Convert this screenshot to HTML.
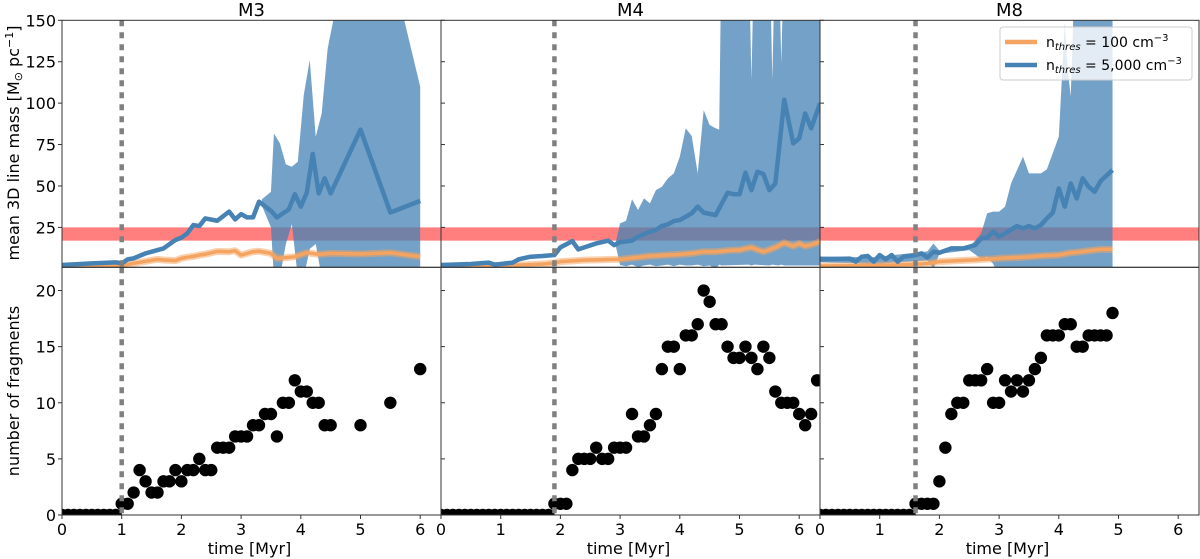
<!DOCTYPE html>
<html><head><meta charset="utf-8"><style>
html,body{margin:0;padding:0;background:#fff;}
svg{display:block;font-family:"DejaVu Sans","Liberation Sans",sans-serif;}
</style></head><body>
<svg id="chart" width="1200" height="559" viewBox="0 0 1200 559" xmlns="http://www.w3.org/2000/svg"></svg>
<script>
// ---- data ----
const panelNames = ["M3","M4","M8"];
const onsetTimes = [1.0, 1.9, 1.6];
const fragM3Times = [0,0.1,0.2,0.3,0.4,0.5,0.6,0.7,0.8,0.9,1.0,1.1,1.2,1.3,1.4,1.5,1.6,1.7,1.8,1.9,2.0,2.1,2.2,2.3,2.4,2.5,2.6,2.7,2.8,2.9,3.0,3.1,3.2,3.3,3.4,3.5,3.6,3.7,3.8,3.9,4.0,4.1,4.2,4.3,4.4,4.5,5.0,5.5,6.0];
const fragM3 = [0,0,0,0,0,0,0,0,0,0,1,1,2,4,3,2,2,3,3,4,3,4,4,5,4,4,6,6,6,7,7,7,8,8,9,9,7,10,10,12,11,11,10,10,8,8,8,10,13];
const fragM4 = [0,0,0,0,0,0,0,0,0,0,0,0,0,0,0,0,0,0,0,1,1,1,4,5,5,5,6,5,5,6,6,6,9,7,7,8,9,13,15,15,13,16,16,17,20,19,17,17,15,14,14,15,14,13,15,14,11,10,10,10,9,8,9,12];
const fragM8 = [0,0,0,0,0,0,0,0,0,0,0,0,0,0,0,0,1,1,1,1,3,6,9,10,10,12,12,12,13,10,10,12,11,12,11,12,13,14,16,16,16,17,17,15,15,16,16,16,16,18];

const m3Times = [0,0.5,0.9,1.0,1.1,1.2,1.4,1.6,1.7,1.9,2.0,2.1,2.2,2.3,2.4,2.6,2.8,2.9,3.0,3.1,3.2,3.3,3.5,3.6,3.8,3.9,4.0,4.1,4.2,4.3,4.4,4.5,5.0,5.5,6.0];
const m3Blue = [2.3,3.3,3.9,3.3,5.7,6.3,9.3,11.3,12.3,17.4,18.8,21.4,26.4,25.8,30.4,29,34.5,29.8,33,31,31,40.5,35,31,35.9,45,37.5,45.9,69.3,45.5,54.6,45.5,84,34,41];
const m3Orange = [1.3,1.5,1.9,1.9,2.6,3.3,4.5,5.7,5.3,4.9,6.3,7,7.5,8.3,8.8,10.5,10.3,10.9,8.3,9.3,10.3,10.6,9.3,6.3,6.9,7.3,8.5,9.7,9.2,8.7,9,9.3,8.9,9.7,7.3];
const m3BandTimes = [3.35,3.5,3.55,3.65,3.75,3.85,3.95,4.05,4.15,4.25,4.35,4.45,4.6,5.0,5.6,6.0];
const m3BandHi = [42,46.5,81.7,75.7,63,61.6,64.6,105,126,79.7,93.8,133,160,250,170,110];
const m3BandLo = [38,25,-5,-5,15,27,-5,-5,12,15,-5,-5,-5,-5,-5,-5];

const m4Times = [0,0.5,0.8,0.9,1.0,1.2,1.3,1.5,1.7,1.9,2.0,2.2,2.3,2.4,2.6,2.8,2.9,3.0,3.2,3.3,3.5,3.6,3.7,3.8,3.9,4.0,4.2,4.3,4.4,4.6,4.8,4.9,5.0,5.1,5.2,5.3,5.4,5.5,5.6,5.75,5.9,6.0,6.1,6.2,6.35];
const m4Blue = [2.3,2.9,3.7,2.5,2.9,3.7,5.7,7.3,7.7,8.3,12.9,16.7,11.7,12.9,15.3,17,14.3,16.1,17,19.4,22.4,23.4,25.8,26.8,28.8,29.4,33.5,37.5,33.9,32.4,45.9,45,45,58,47.5,58.6,57.2,47.5,51.5,102,75.7,78.7,93.8,84.8,100];
const m4Orange = [1.3,1.5,1.8,1.9,2,2.2,2.3,2.5,2.8,3.5,4.3,4.8,5,5.2,5.4,5.6,5.7,5.7,6.5,6.9,7.7,7.9,8.1,8.3,8.5,8.7,9.3,9.8,10.3,10.3,11,11.3,11.3,12.2,12.9,11.5,10.3,11.5,12.9,15.7,13.7,15.3,13.7,14.5,16.3];
const m4BandTimes = [2.92,3.0,3.1,3.2,3.3,3.4,3.5,3.6,3.7,3.8,3.9,4.0,4.1,4.2,4.3,4.4,4.5,4.6,4.66,4.7,5.15,5.2,5.25,5.5,5.55,5.6,5.65,5.7,5.75,6.35];
const m4BandHi = [15,27.4,29,42,35.5,42.5,39.5,47.5,49.5,54.6,57.6,67.7,84.8,80.1,57.6,95.8,86.8,84.8,84,200,200,114,200,200,114,200,200,124,200,200];
const m4BandLo = [15,2.3,1.5,2.5,1,2,2.5,1.5,2,2.5,1.5,2.5,2,2,2.5,1.5,2,0,2.5,2,2.5,2,2.5,2,2.5,2.3,2,2.5,2,2];

const m8Times = [0,0.5,0.6,0.7,0.8,0.9,1.0,1.1,1.2,1.3,1.4,1.5,1.6,1.7,1.8,1.9,2.0,2.2,2.4,2.6,2.7,2.8,2.9,3.0,3.1,3.3,3.4,3.5,3.6,3.7,3.8,3.9,4.0,4.1,4.2,4.3,4.4,4.5,4.6,4.7,4.9];
const m8Blue = [5.7,6.1,4.3,7.3,7.7,4.3,8.3,5.7,8.3,4.3,7.3,7.7,8.3,9.3,6.8,10.3,9.7,12.3,12.3,14.3,18.4,18.8,22.4,19.4,21.4,25.8,24.4,25.8,24.4,26.4,30.4,33.9,48.5,37.5,51.5,42.5,54.6,49.5,46.5,53,59.6];
const m8Orange = [1.7,1.8,1.9,2,2,2,2.1,2.2,2.3,2.4,2.5,2.6,2.8,3,3.3,3.7,4.3,4.7,5.1,5.4,5.7,5.8,6,6.3,6.5,6.8,7,7.3,7.5,7.8,8,8.1,8.3,9,9.7,10,10.4,10.9,11.3,11.7,11.7];
const m8BandTimes = [0,0.9,1.8,1.9,2.0,2.5,2.7,2.8,2.9,3.0,3.1,3.2,3.4,3.5,3.7,3.8,4.0,4.1,4.15,4.2,4.25,4.35,4.9];
const m8BandHi = [7.5,7,10.5,15.3,11,13,21.4,33.5,34.5,34.5,37.5,51.5,67.7,57.6,57.6,60,79.7,148,120,104,160,200,200];
const m8BandLo = [4,3,5,0,9,11.3,6,7.3,3,-5,-5,-5,-5,-5,-5,-5,-5,-5,-5,-5,-5,-5,-5];

const topTicks = [25,50,75,100,125,150];
const bottomTicks = [0,5,10,15,20];
const xTicks = [0,1,2,3,4,5,6];
const bandRange = [17,25];

// ---- layout ----
const NS = "http://www.w3.org/2000/svg";
const svg = document.getElementById("chart");
const panelX = [62, 441, 820], panelW = 379;
const topY0 = 20.3, topY1 = 267.3, botY0 = 267.3, botY1 = 515;
const xMax = panelW / 59.7;
function sx(p, t){ return panelX[p] + t / xMax * panelW; }
function syTop(v){ const vmin = 0.9, vmax = 150; return topY1 - (v - vmin) / (vmax - vmin) * (topY1 - topY0); }
function syBot(v){ const vmax = 22.07; return botY1 - v / vmax * (botY1 - botY0); }
function el(tag, attrs, parent){
  const e = document.createElementNS(NS, tag);
  for (const k in attrs) e.setAttribute(k, attrs[k]);
  (parent || svg).appendChild(e);
  return e;
}
const defs = el("defs", {});
for (let p = 0; p < 3; p++) {
  const c1 = el("clipPath", {id: "ct" + p}, defs);
  el("rect", {x: panelX[p], y: topY0, width: panelW, height: topY1 - topY0}, c1);
  const c2 = el("clipPath", {id: "cb" + p}, defs);
  el("rect", {x: panelX[p], y: botY0, width: panelW, height: botY1 - botY0}, c2);
}

const tops = [
  {t: m3Times, b: m3Blue, o: m3Orange, bt: m3BandTimes, hi: m3BandHi, lo: m3BandLo},
  {t: m4Times, b: m4Blue, o: m4Orange, bt: m4BandTimes, hi: m4BandHi, lo: m4BandLo},
  {t: m8Times, b: m8Blue, o: m8Orange, bt: m8BandTimes, hi: m8BandHi, lo: m8BandLo}
];
const frags = [fragM3, fragM4, fragM8];
const fragTimes = [fragM3Times, null, null];

for (let p = 0; p < 3; p++) {
  const d = tops[p];
  const gT = el("g", {"clip-path": "url(#ct" + p + ")"});
  
  
  const band = el("rect", {x: panelX[p], y: syTop(bandRange[1]), width: panelW, height: syTop(bandRange[0]) - syTop(bandRange[1]), fill: "rgba(255,0,0,0.5)"}, gT);
  
  
  let pts = d.bt.map((t, i) => sx(p, t) + "," + syTop(d.hi[i]));
  for (let i = d.bt.length - 1; i >= 0; i--) pts.push(sx(p, d.bt[i]) + "," + syTop(d.lo[i]));
  const fill = el("polygon", {points: pts.join(" "), fill: "rgba(70,130,180,0.75)"}, gT);
  
  
  const op = d.t.map((t, i) => sx(p, t) + "," + syTop(d.o[i])).join(" ");
  const oh = el("polyline", {points: op, fill: "none", stroke: "rgba(244,164,96,0.5)", "stroke-width": 7, "stroke-linejoin": "round"}, gT);
  
  
  const ol = el("polyline", {points: op, fill: "none", stroke: "#f4a460", "stroke-width": 3.5, "stroke-linejoin": "round"}, gT);
  
  
  const bp = d.t.map((t, i) => sx(p, t) + "," + syTop(d.b[i])).join(" ");
  const bl = el("polyline", {points: bp, fill: "none", stroke: "#4682b4", "stroke-width": 4.5, "stroke-linejoin": "round"}, gT);
  
  

  const gB = el("g", {"clip-path": "url(#cb" + p + ")"});
  
  
  const f = frags[p];
  for (let i = 0; i < f.length; i++) {
    const t = fragTimes[p] ? fragTimes[p][i] : i * 0.1;
    const c = el("circle", {cx: sx(p, t), cy: syBot(f[i]), r: 6.2, fill: "#000"}, gB);
    
    
  }
  for (const [y0, y1] of [[topY0, topY1], [botY0, botY1]]) {
    const v = el("line", {x1: sx(p, onsetTimes[p]), x2: sx(p, onsetTimes[p]), y1: y0, y2: y1, stroke: "#808080", "stroke-width": 4.5, "stroke-dasharray": "6 6"});
    
    
  }
  for (const [y0, y1] of [[topY0, topY1], [botY0, botY1]]) {
    const fr = el("rect", {x: panelX[p], y: y0, width: panelW, height: y1 - y0, fill: "none", stroke: "#333", "stroke-width": 1});
    
    
  }
  const ti = el("text", {x: panelX[p] + panelW / 2, y: 16, "text-anchor": "middle", "font-size": 18});
  ti.textContent = panelNames[p];
  
  
  for (const xt of xTicks) {
    const x = sx(p, xt);
    el("line", {x1: x, x2: x, y1: botY1, y2: botY1 + 4, stroke: "#333"});
    const tl = el("text", {x: x, y: botY1 + 20, "text-anchor": "middle", "font-size": 16});
    tl.textContent = xt;
    
    
  }
  const xl = el("text", {x: panelX[p] + panelW / 2 - 2, y: 554, "text-anchor": "middle", "font-size": 16});
  xl.textContent = "time [Myr]";
  
  
  for (const yt of topTicks) { const y = syTop(yt); el("line", {x1: panelX[p] - (p ? 0 : 4), x2: panelX[p] + (p ? 4 : 0), y1: y, y2: y, stroke: "#333"}); }
  for (const yt of bottomTicks) { const y = syBot(yt); el("line", {x1: panelX[p] - (p ? 0 : 4), x2: panelX[p] + (p ? 4 : 0), y1: y, y2: y, stroke: "#333"}); }
}
for (const yt of topTicks) {
  const t = el("text", {x: 56, y: syTop(yt) + 6, "text-anchor": "end", "font-size": 16});
  t.textContent = yt;
  
  
}
for (const yt of bottomTicks) {
  const t = el("text", {x: 56, y: syBot(yt) + 6, "text-anchor": "end", "font-size": 16});
  t.textContent = yt;
  
  
}
const yl1 = el("text", {x: 0, y: 0, transform: "translate(19,143) rotate(-90)", "text-anchor": "middle", "font-size": 16});
yl1.innerHTML = 'mean 3D line mass [M<tspan font-size="11" dy="3">⊙</tspan><tspan dy="-3"> pc</tspan><tspan font-size="11" dy="-6">−1</tspan><tspan dy="6">]</tspan>';


const yl2 = el("text", {x: 0, y: 0, transform: "translate(19,391) rotate(-90)", "text-anchor": "middle", "font-size": 16});
yl2.textContent = "number of fragments";



const lg = el("g", {});


el("rect", {x: 1000, y: 27, width: 192, height: 53, rx: 3, fill: "rgba(255,255,255,0.8)", stroke: "#ccc"}, lg);
const entries = [["#f4a460", "100"], ["#4682b4", "5,000"]];
entries.forEach((e, i) => {
  const y = 42 + i * 23;
  el("line", {x1: 1005, x2: 1037, y1: y, y2: y, stroke: e[0], "stroke-width": 4.5}, lg);
  const t = el("text", {x: 1046, y: y + 5, "font-size": 14}, lg);
  t.innerHTML = 'n<tspan font-size="10" font-style="italic" dy="3">thres</tspan><tspan dy="-3"> = ' + e[1] + ' cm</tspan><tspan font-size="10" dy="-6">−3</tspan>';
  
  
});
</script>
</body></html>
